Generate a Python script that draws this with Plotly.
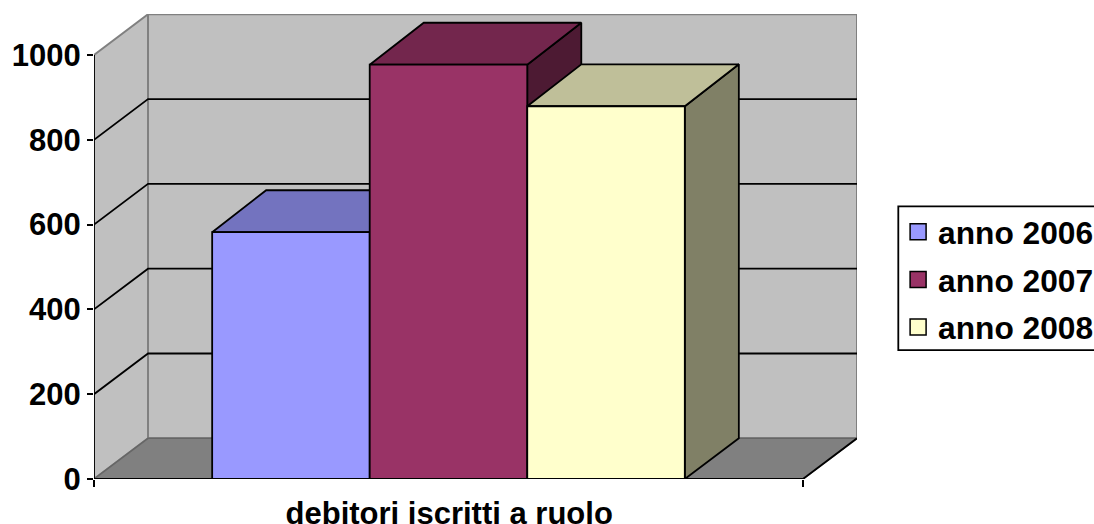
import plotly.graph_objects as go

category = "debitori iscritti a ruolo"
series_names = ["anno 2006", "anno 2007", "anno 2008"]
series_values = [582, 977, 879]
front_colors = ["#9999FF", "#993366", "#FFFFCC"]
top_colors = ["#7373BF", "#73264D", "#BFBF99"]
side_colors = ["#4D4D80", "#4D1A33", "#808066"]
y_ticks = [0, 200, 400, 600, 800, 1000]

# Oblique depth of the pseudo-3D box, in axis units
DX, DY = 0.0762, 96
BAR_DY = 99
GAP = 1.5
FONT = "Liberation Sans"
LW = 1.8

fig = go.Figure()


def poly(xs, ys, fill=None, line="black", width=LW):
    fig.add_trace(go.Scatter(
        x=xs, y=ys, mode="lines", fill="toself" if fill else None,
        fillcolor=fill, line=dict(color=line, width=width),
        showlegend=False, hoverinfo="skip", cliponaxis=False))


ymax = y_ticks[-1]
# walls and floor
poly([0, DX, DX, 0, 0], [0, DY, ymax + DY, ymax, 0], "#C0C0C0", "#808080", 2)
poly([DX, 1 + DX, 1 + DX, DX, DX], [DY, DY, ymax + DY, ymax + DY, DY], "#C0C0C0", "#808080", 2)
poly([0, 1, 1 + DX, DX, 0], [0, 0, DY, DY, 0], "#808080", "#666666", 1.5)
poly([1, 1 + DX], [0, DY])

# gridlines
for t in y_ticks[1:-1]:
    poly([0, DX, 1 + DX], [t, t + DY, t + DY])

# boxes
bw = 1 / (len(series_values) + GAP)
for i, (v, fc, tc, sc) in enumerate(zip(series_values, front_colors, top_colors, side_colors)):
    x0 = GAP * bw / 2 + i * bw
    x1 = x0 + bw
    poly([x1, x1 + DX, x1 + DX, x1, x1], [0, DY, v + BAR_DY, v, 0], sc)
    poly([x0, x1, x1 + DX, x0 + DX, x0], [v, v, v + BAR_DY, v + BAR_DY, v], tc)
    poly([x0, x1, x1, x0, x0], [0, 0, v, v, 0], fc)

# axis lines
poly([0, 1], [0, 0])
poly([0, 0], [0, ymax])

# legend entries
for name, fc in zip(series_names, front_colors):
    fig.add_trace(go.Scatter(
        x=[None], y=[None], mode="markers", name=name, legendgroup=name,
        marker=dict(symbol="square", size=18, color=fc, line=dict(color="black", width=1.5))))

L, R, T, B = 93.7, 237.3, 13.5, 45
W, H = 1094, 524
pw, ph = W - L - R, H - T - B

fig.update_layout(
    width=W, height=H,
    margin=dict(l=L, r=R, t=T, b=B, pad=0, autoexpand=False),
    paper_bgcolor="white", plot_bgcolor="rgba(0,0,0,0)",
    font=dict(family=FONT, size=31, color="black"),
    xaxis=dict(
        range=[0, 1 + DX], showgrid=False, zeroline=False, showline=False,
        tickmode="array", tickvals=[0.501], ticktext=[f"<b>{category}</b>"], ticks="",
        ticklabelstandoff=13,
        minor=dict(ticks="outside", tickmode="array", tickvals=[0, 1], ticklen=7,
                   tickcolor="black", tickwidth=1.8, showgrid=False),
        fixedrange=True),
    yaxis=dict(
        range=[0, ph / 0.4245], showgrid=False, zeroline=False, showline=False,
        tickmode="array", tickvals=y_ticks, ticktext=[f"<b>{t}</b>" for t in y_ticks],
        ticks="outside", ticklen=6, tickcolor="black", tickwidth=1.8,
        fixedrange=True),
    legend=dict(
        x=(897.8 - L) / pw, xanchor="left",
        y=1 - (204.3 - T) / ph, yanchor="top",
        bgcolor="rgba(0,0,0,0)", borderwidth=0,
        tracegroupgap=3.5, font=dict(family=FONT, size=31.7, color="black", weight="bold")),
    showlegend=True,
    shapes=[dict(type="rect", xref="paper", yref="paper",
                 x0=(898 - L) / pw, x1=(1110 - L) / pw,
                 y0=1 - (350 - T) / ph, y1=1 - (206 - T) / ph,
                 fillcolor="white", line=dict(color="black", width=1.8))],
)

fig.write_html("out.html", config={"displayModeBar": False},
               post_script="document.body.style.margin='0';document.documentElement.style.overflow='hidden';")
